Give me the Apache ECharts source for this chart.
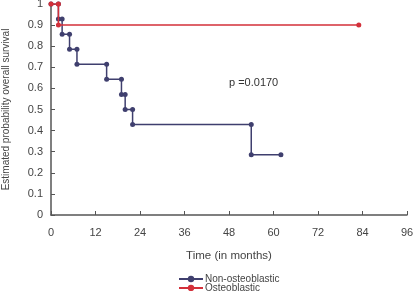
<!DOCTYPE html>
<html lang="en">

<head>
    <meta charset="UTF-8">
    <title>Overall survival</title>
    <script type="text/javascript" src="https://cdn.jsdelivr.net/npm/echarts@6/dist/echarts.min.js"></script>
    <style>
        html, body { margin: 0; padding: 0; background: #fff; }
        .km { width: 413px; height: 291px; }
    </style>
</head>

<body>
    <div class="km"></div>
</body>
<script>
    // event times (months) and survival right after each time
    let nonTimes = [0, 2, 3, 5, 7, 15, 19, 20, 22, 54]
    let nonSurv = [1, 0.929, 0.857, 0.786, 0.714, 0.643, 0.571, 0.5, 0.429, 0.286]
    let nonEnd = 62
    let osteoTimes = [0, 2]
    let osteoSurv = [1, 0.9]
    let osteoEnd = 83
    let xTicks = [0, 12, 24, 36, 48, 60, 72, 84, 96]

    // turn times/survival into step points (both ends of every drop)
    function steps(times, surv, end) {
        let pts = []
        for (let i = 0; i < times.length; i++) {
            if (i > 0) pts.push([times[i], surv[i - 1]])
            pts.push([times[i], surv[i]])
        }
        pts.push([end, surv[surv.length - 1]])
        return pts
    }

    let mCharts = echarts.init(document.querySelector('.km'))
    let txt = '#444'
    let legendBase = {
        orient: 'vertical',
        left: 178,
        itemWidth: 24,
        itemHeight: 8,
        padding: 0,
        textStyle: { color: txt, fontSize: 10, fontFamily: 'Liberation Sans', padding: [0, 0, 0, -3] }
    }
    let option = {
        animation: false,
        grid: { left: 51, right: 6, top: 4, bottom: 76, outerBoundsMode: 'none' },
        xAxis: {
            type: 'value',
            min: xTicks[0],
            max: xTicks[xTicks.length - 1],
            interval: 12,
            name: 'Time (in months)',
            nameLocation: 'middle',
            nameGap: 35,
            nameTextStyle: { color: txt, fontSize: 11.5, fontFamily: 'Liberation Sans' },
            axisLine: { lineStyle: { color: '#555', width: 1.5 } },
            axisTick: { inside: true, length: 4, lineStyle: { color: '#555' } },
            axisLabel: { color: txt, fontSize: 11, fontFamily: 'Liberation Sans', margin: 12 },
            splitLine: { show: false }
        },
        yAxis: {
            type: 'value',
            min: 0,
            max: 1,
            interval: 0.1,
            name: 'Estimated probability overall survival',
            nameLocation: 'middle',
            nameGap: 40,
            nameTextStyle: { color: txt, fontSize: 10, fontFamily: 'Liberation Sans' },
            axisLine: { show: true, lineStyle: { color: '#555', width: 1.5 } },
            axisTick: { show: true, inside: true, length: 4, lineStyle: { color: '#555' } },
            axisLabel: { color: txt, fontSize: 11, fontFamily: 'Liberation Sans', margin: 8 },
            splitLine: { show: false }
        },
        legend: [
            Object.assign({ top: 274, data: ['Non-osteoblastic'] }, legendBase),
            Object.assign({ top: 283, data: ['Osteoblastic'] }, legendBase)
        ],
        graphic: [{
            type: 'text',
            left: 229,
            top: 77,
            style: { text: 'p =0.0170', fill: '#333', font: '11px Liberation Sans' }
        }],
        series: [{
            name: 'Non-osteoblastic',
            type: 'line',
            data: steps(nonTimes, nonSurv, nonEnd),
            symbol: 'circle',
            symbolSize: 5,
            color: '#3f3f6e',
            lineStyle: { width: 1.5 },
            z: 2
        }, {
            name: 'Osteoblastic',
            type: 'line',
            data: steps(osteoTimes, osteoSurv, osteoEnd),
            symbol: 'circle',
            symbolSize: 5,
            color: '#d3303a',
            lineStyle: { width: 1.5 },
            z: 3
        }]
    };
    mCharts.setOption(option)
</script>

</html>
